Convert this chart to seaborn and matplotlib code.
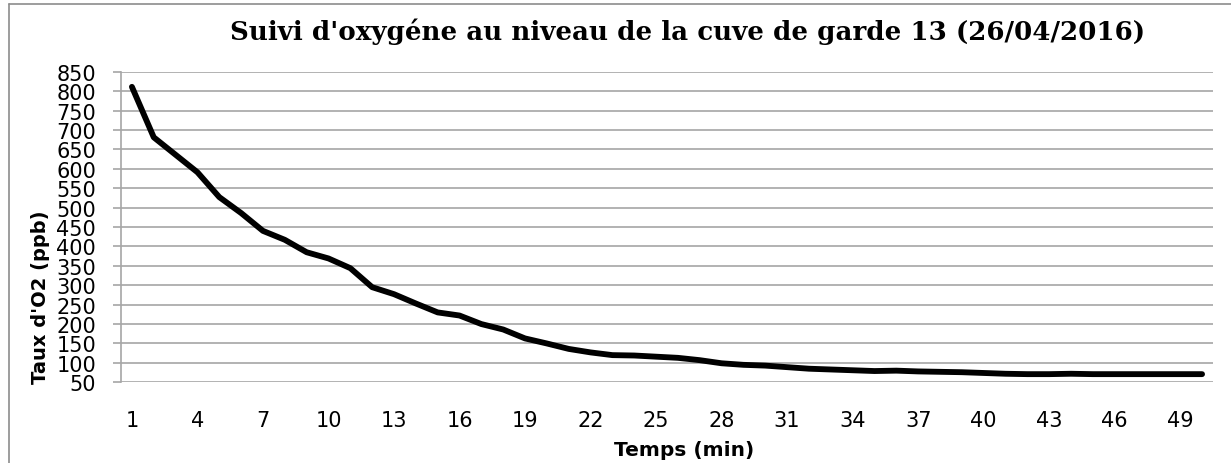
import numpy as np
import pandas as pd
import seaborn as sns
import matplotlib.pyplot as plt
from matplotlib.lines import Line2D

# time (min) and dissolved oxygen (ppb)
temps = list(range(1, 51))
o2 = [811, 681, 636, 591, 527, 486, 440, 417, 385, 369,
      344, 295, 277, 253, 230, 222, 200, 186, 163, 150,
      136, 127, 120, 119, 116, 113, 107, 99, 95, 93,
      89, 85, 83, 81, 79, 80, 78, 77, 76, 74,
      72, 71, 71, 72, 71, 71, 71, 71, 71, 71]
xticks = list(range(1, 51, 3))
yticks = list(range(50, 851, 50))

df = pd.DataFrame({'temps': temps, 'o2': o2})

sns.set_style('white')
plt.rcParams['font.family'] = ['DejaVu Sans']
plt.rcParams['text.color'] = 'black'
plt.rcParams['axes.labelcolor'] = 'black'

W, H = 1231, 464
fig = plt.figure(figsize=(W / 100, H / 100), dpi=100)
ax = fig.add_axes([121 / W, 1 - 383.3 / H, (1213 - 121) / W, (383.3 - 72.7) / H])

sns.lineplot(data=df, x='temps', y='o2', ax=ax, color='black', linewidth=4.2,
             solid_capstyle='round', solid_joinstyle='round', zorder=3)

ax.set_xlim(0.5, 50.5)
ax.set_ylim(50, 850)
ax.set_xticks(xticks)
ax.set_yticks(yticks)
ax.yaxis.grid(True, color='#a6a6a6', linewidth=1.2)
ax.xaxis.grid(False)
for s in ['top', 'right', 'bottom']:
    ax.spines[s].set_visible(False)
ax.spines['left'].set_color('#a6a6a6')
ax.spines['left'].set_linewidth(1.2)

ax.tick_params(axis='y', length=6, width=1.2, color='#a6a6a6', labelcolor='black',
               pad=12, labelsize=15, left=True)
ax.tick_params(axis='x', length=0, pad=20, labelsize=15, labelcolor='black')

ax.set_xlabel('Temps (min)', fontsize=14.5, fontweight='bold')
ax.set_ylabel("Taux d'O2 (ppb)", fontsize=14, fontweight='bold')
ax.xaxis.set_label_coords((684 - 121) / (1213 - 121), -(441 - 383.3) / (383.3 - 72.7))
ax.yaxis.set_label_coords(-(121 - 50) / (1213 - 121), (383.3 - 297) / (383.3 - 72.7))

fig.text(688 / W, 1 - 40 / H, "Suivi d'oxygéne au niveau de la cuve de garde 13 (26/04/2016)",
         ha='center', va='baseline', fontsize=18.8, fontweight='bold', family='DejaVu Serif')

# chart frame (left and top edges visible)
fig.add_artist(Line2D([9 / W, 9 / W], [0, 1 - 5 / H], color='#8c8c8c', linewidth=1.2))
fig.add_artist(Line2D([9 / W, 1], [1 - 5 / H, 1 - 5 / H], color='#8c8c8c', linewidth=1.2))

fig.savefig('out.png', dpi=100)
